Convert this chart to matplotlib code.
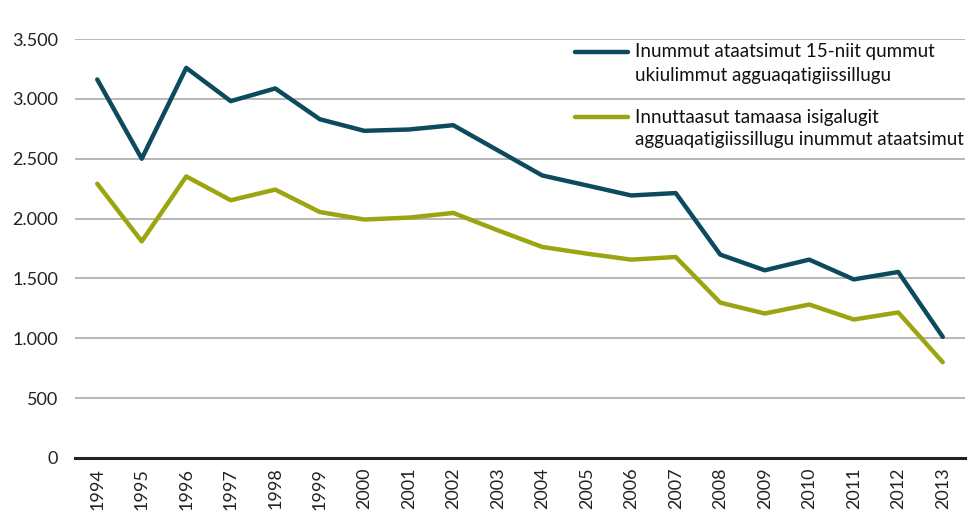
import matplotlib
matplotlib.use("Agg")
from matplotlib import pyplot as plt
from matplotlib.lines import Line2D
import numpy as np

plt.rcParams['font.family'] = ['Lato', 'DejaVu Sans']

#
# Data
#
years = ['1994', '1995', '1996', '1997', '1998', '1999', '2000', '2001', '2002', '2003',
         '2004', '2005', '2006', '2007', '2008', '2009', '2010', '2011', '2012', '2013']
adults = [3162, 2500, 3259, 2981, 3087, 2830, 2733, 2744, 2780, 2570,
          2360, 2277, 2193, 2213, 1699, 1568, 1657, 1492, 1554, 1012]
children = [2291, 1810, 2352, 2153, 2242, 2055, 1992, 2008, 2047, 1902,
            1763, 1707, 1657, 1679, 1298, 1207, 1282, 1157, 1216, 800]
label_adults = 'Inummut ataatsimut 15-niit qummut\nukiulimmut agguaqatigiissillugu'
label_children = 'Innuttaasut tamaasa isigalugit\nagguaqatigiissillugu inummut ataatsimut'
yticks = [0, 500, 1000, 1500, 2000, 2500, 3000, 3500]

col_adults = '#0d4a5e'
col_children = '#9aa50f'

W, H = 977, 530

#
# Plot
#
fig = plt.figure(figsize=(W / 100, H / 100), dpi=100)
ax = fig.add_axes([75 / W, 1 - 458 / H, 890 / W, 419 / H])

x = np.arange(len(years))
ax.plot(x, adults, color=col_adults, lw=3.2, solid_capstyle='round')
ax.plot(x, children, color=col_children, lw=3.2, solid_capstyle='round')

ax.set_xlim(-0.5, len(years) - 0.5)
ax.set_ylim(0, 3500)
ax.set_yticks(yticks)
ax.set_yticklabels([f"{v:,}".replace(',', '.') for v in yticks], fontsize=13, color='#222222')
ax.set_xticks(x)
ax.set_xticklabels(years, rotation=90, fontsize=13, color='#222222')
ax.tick_params(length=0, pad=12)
ax.tick_params(axis='x', pad=7)

ax.grid(axis='y', color='#aaaaaa', lw=1.2)
ax.set_axisbelow(True)
for s in ['left', 'right', 'top']:
    ax.spines[s].set_visible(False)
ax.spines['bottom'].set_linewidth(2.2)
ax.spines['bottom'].set_color('#222222')

# legend, handle aligned to first text line (as in the original)
for label, col, ytop in [(label_adults, col_adults, 52), (label_children, col_children, 117)]:
    fig.add_artist(Line2D([575 / W, 628 / W], [1 - ytop / H] * 2, color=col, lw=3.2,
                          solid_capstyle='round', transform=fig.transFigure))
    for i, line in enumerate(label.split('\n')):
        fig.text(635 / W, 1 - (ytop + 23 * i) / H, line, fontsize=13.5,
                 color='#111111', va='center', ha='left')

plt.savefig('out.png', dpi=100)
